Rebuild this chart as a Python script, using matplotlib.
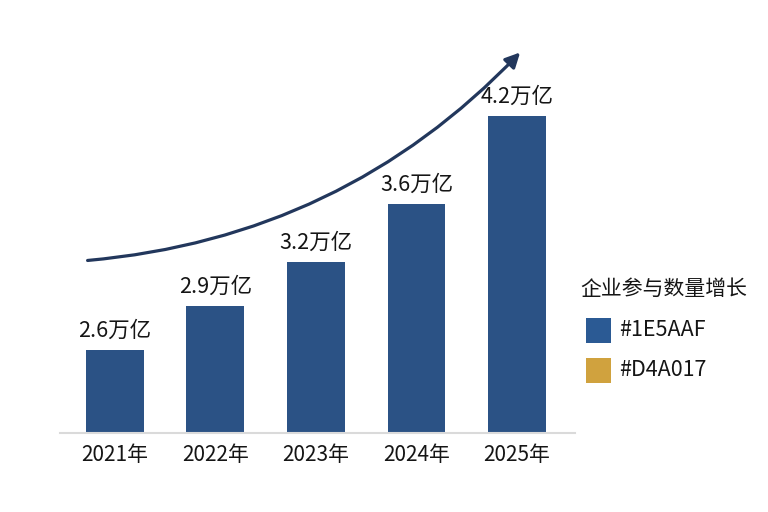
import matplotlib
matplotlib.use("Agg")
import matplotlib.pyplot as plt
from matplotlib.patches import FancyArrowPatch, Rectangle

plt.rcParams['font.family'] = ['Noto Sans CJK SC', 'DejaVu Sans']

# ---- data ----
years = ['2021年', '2022年', '2023年', '2024年', '2025年']
values = [2.6, 2.9, 3.2, 3.6, 4.2]
value_labels = ['2.6万亿', '2.9万亿', '3.2万亿', '3.6万亿', '4.2万亿']
legend_title = '企业参与数量增长'
legend_labels = ['#1E5AAF', '#D4A017']
legend_colors = ['#2B5A94', '#D0A23E']
bar_color = '#2B5285'
# trend arrow (data coords: x index, y value)
arrow_start = (-0.30, 3.21)
arrow_end = (4.05, 4.65)

W, H = 768, 512
fig = plt.figure(figsize=(W / 100, H / 100), dpi=100)
fig.patch.set_facecolor('white')
ax_l, ax_r, ax_t, ax_b = 60, 575, 30, 433
ax = fig.add_axes([ax_l / W, (H - ax_b) / H, (ax_r - ax_l) / W, (ax_b - ax_t) / H])

x = list(range(len(years)))
ax.bar(x, values, width=0.577, color=bar_color, zorder=2)
ax.set_xlim(-0.547, 4.577)
ax.set_ylim(2.03, 4.79)

txt_color = '#151515'
for xi, v, lab in zip(x, values, value_labels):
    ax.annotate(lab, (xi, v), xytext=(0, 6), textcoords='offset points',
                ha='center', va='bottom', fontsize=15.5, color=txt_color,
                fontweight='medium')

ax.set_xticks(x)
ax.set_xticklabels(years, fontsize=15, color=txt_color, fontweight='medium')
ax.tick_params(axis='x', length=0, pad=8)
ax.set_yticks([])
for s in ['top', 'right', 'left']:
    ax.spines[s].set_visible(False)
ax.spines['bottom'].set_color('#DADADA')
ax.spines['bottom'].set_linewidth(1.5)

arrow = FancyArrowPatch(arrow_start, arrow_end, connectionstyle='arc3,rad=0.19',
                        arrowstyle='-|>', mutation_scale=22, lw=2.3,
                        color='#22375C', zorder=3, clip_on=False)
ax.add_patch(arrow)

# ---- legend (drawn in figure pixel layout) ----
def fx(px):
    return px / W

def fy(py):
    return (H - py) / H

fig.text(fx(580), fy(289), legend_title, ha='left', va='center',
         fontsize=15, color=txt_color, fontweight='medium')
row_y = [330, 370]
sq = 25
for ry, lab, c in zip(row_y, legend_labels, legend_colors):
    fig.add_artist(Rectangle((fx(586), fy(ry + sq / 2)), sq / W, sq / H,
                             transform=fig.transFigure, facecolor=c,
                             edgecolor='none'))
    fig.text(fx(619), fy(ry), lab, ha='left', va='center', fontsize=15.5,
             color=txt_color, fontweight='medium')

fig.savefig('out.png', dpi=100, facecolor='white')
